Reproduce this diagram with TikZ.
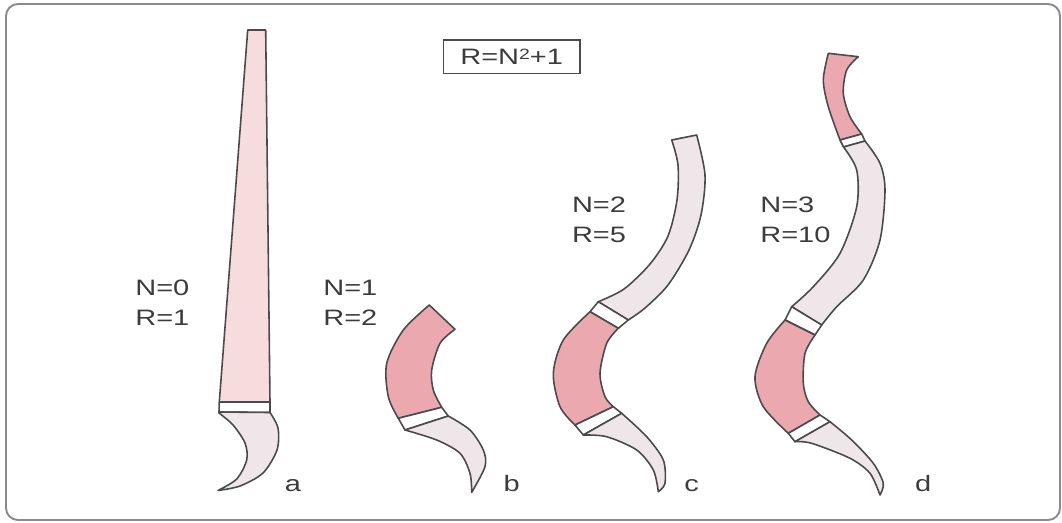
\documentclass[tikz,border=0pt]{standalone}
\usepackage{fontspec}
\newfontfamily\lbl[FakeStretch=1.3]{Liberation Sans}
\definecolor{framecol}{HTML}{8A8A8A}
\definecolor{edgecol}{HTML}{4A4A4A}
\definecolor{textcol}{HTML}{3C3C3C}
\definecolor{palepink}{HTML}{F7DCDE}
\definecolor{deeppink}{HTML}{EBA8AF}
\definecolor{ashpink}{HTML}{EEE6E8}
\begin{document}
\begin{tikzpicture}[x=0.02cm,y=-0.02cm,
  seg/.style={draw=edgecol,line width=0.9pt,line join=round},
  pale/.style={seg,fill=palepink},
  deep/.style={seg,fill=deeppink},
  ash/.style={seg,fill=ashpink},
  gap/.style={seg,fill=white},
  lab/.style={inner sep=0pt,anchor=base west,text=textcol,font=\lbl\fontsize{12.7}{15}\selectfont},
  tag/.style={inner sep=0pt,anchor=base,text=textcol,font=\lbl\fontsize{12.7}{15}\selectfont}]
\useasboundingbox (0,0) rectangle (1062,522);
% outer frame
\draw[framecol,line width=1.1pt,rounded corners=0.24cm] (6,4) rectangle (1060,520);

% formula box
\node[draw=edgecol,line width=0.8pt,minimum width=2.734cm,minimum height=0.667cm,inner sep=0pt,
      text=textcol,font=\lbl\fontsize{12.7}{15}\selectfont] (formula) at (511.7,56.7) {R=N\raisebox{0.45ex}{\fontsize{8.5}{10}\selectfont 2}+1};

% ---- a : straight brush
\path[pale] (247.7,30) -- (265.7,30) -- (270,402) -- (219.3,402) -- cycle;
\path[gap] (219.3,402) -- (270,402) -- (270,412.5) -- (219,412) -- cycle;
\path[ash] (219,412) -- plot[smooth] coordinates {(270,412.5) (278,428) (277,450) (263,473) (240,486) (218,490.5)}
  -- plot[smooth] coordinates {(218,490.5) (236.7,479) (246.7,460) (245,443) (233,425) (219,413)} -- cycle;

% ---- b : one bend
\path[deep] plot[smooth] coordinates {(429.3,305) (403.3,330) (386.7,363.3) (388.3,396.7) (398.3,418.3)}
  -- plot[smooth] coordinates {(441.7,407.3) (433.3,390) (431.7,370) (440,343.3) (455,329.3)} -- cycle;
\path[gap] (398.3,418.3) -- (441.7,407.3) -- (448.3,416) -- (405,430) -- cycle;
\path[ash] (405,430) -- plot[smooth] coordinates {(448.3,416) (470,430) (483.3,450) (485,466.7) (471.7,492.3)}
  -- plot[smooth] coordinates {(471.7,492.3) (470,473.3) (460,453.3) (436.7,440) (405,430)} -- cycle;

% ---- c : two bends
\path[ash] plot[smooth] coordinates {(671.7,140) (678,165) (677,200) (668,236) (650,264) (624,289) (598.3,301.7)}
  -- plot[smooth] coordinates {(628.3,320) (645,308) (668,285) (689,250) (701,215) (705,175) (696.7,135)} -- cycle;
\path[gap] (598.3,301.7) -- (628.3,320) -- (618.3,328.3) -- (590,311.7) -- cycle;
\path[deep] plot[smooth] coordinates {(590,311.7) (563.3,340) (553.3,373.3) (560,406.7) (575,425)}
  -- plot[smooth] coordinates {(613.3,406.7) (605,396.7) (600,373.3) (606.7,343.3) (618.3,328.3)} -- cycle;
\path[gap] (575,425) -- (613.3,406.7) -- (621.7,413.3) -- (583.3,435) -- cycle;
\path[ash] (583.3,435) -- plot[smooth] coordinates {(621.7,413.3) (646.7,436.7) (663.3,460) (665,483.3) (658.3,491.7)}
  -- plot[smooth] coordinates {(658.3,491.7) (653.3,470) (636.7,450) (606.7,436.7) (583.3,435)} -- cycle;

% ---- d : three bends
\path[deep] plot[smooth] coordinates {(828.3,53.3) (823.3,80) (828.3,106.7) (840,140)}
  -- plot[smooth] coordinates {(861.7,134) (850,116.7) (843.3,93.3) (846.7,70) (858.3,56.7)} -- cycle;
\path[gap] (840,140) -- (861.7,134) -- (865,141) -- (843.5,147) -- cycle;
\path[ash] plot[smooth] coordinates {(843.5,147) (856.7,170) (856.7,206.7) (840,253.3) (813.3,286.7) (791.7,306.7)}
  -- plot[smooth] coordinates {(821.7,325) (836.7,306.7) (863.3,280) (880,240) (885,190) (880,163.3) (865,141)} -- cycle;
\path[gap] (791.7,306.7) -- (821.7,325) -- (815,335) -- (785,320) -- cycle;
\path[deep] plot[smooth] coordinates {(785,320) (766.7,343.3) (755,376.7) (763.3,406.7) (788.3,433.3)}
  -- plot[smooth] coordinates {(820,415) (808.3,401.7) (803.3,383.3) (805,353.3) (815,335)} -- cycle;
\path[gap] (788.3,433.3) -- (820,415) -- (830,421.7) -- (795,441.7) -- cycle;
\path[ash] (795,441.7) -- plot[smooth] coordinates {(830,421.7) (851.7,440) (873.3,463.3) (883.3,483.3) (880,495)}
  -- plot[smooth] coordinates {(880,495) (870,473.3) (850,458.3) (811.7,443.3) (795,441.7)} -- cycle;

% labels
\node[lab] (n0) at (135,295) {N=0};
\node[lab] (r1) at (135,325) {R=1};
\node[lab] (n1) at (323,295) {N=1};
\node[lab] (r2) at (323,325) {R=2};
\node[lab] (n2) at (571.7,212) {N=2};
\node[lab] (r5) at (571.7,242) {R=5};
\node[lab] (n3) at (760,212) {N=3};
\node[lab] (r10) at (760,242) {R=10};

\node[tag] (ta) at (293,491) {a};
\node[tag] (tb) at (511.7,491) {b};
\node[tag] (tc) at (691.7,491) {c};
\node[tag] (td) at (923.3,491) {d};
\end{tikzpicture}
\end{document}
